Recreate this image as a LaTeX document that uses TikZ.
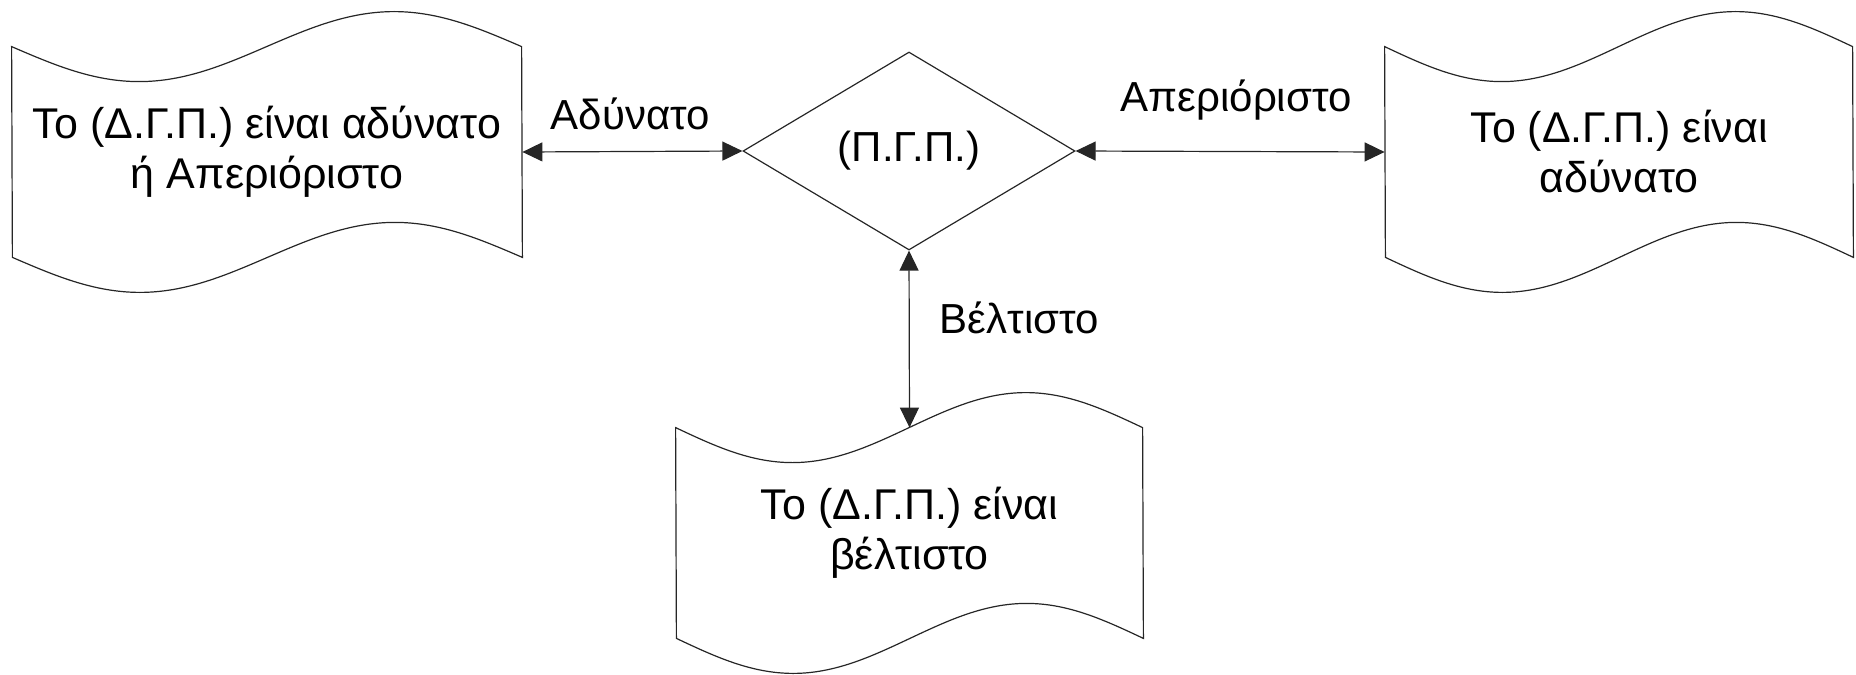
\documentclass[tikz,border=0pt]{standalone}
\usepackage{fontspec}
\setmainfont{Liberation Sans}
\usetikzlibrary{shapes.geometric,arrows.meta,calc}
\tikzset{outline/.style={line width=0.6pt,draw=black!85}}
\tikzset{conn/.style={<->,>={Triangle[length=10pt,width=9.5pt]},line width=0.6pt,draw=black!85}}
\tikzset{tapebox/.style={rectangle,minimum height=105pt,inner sep=0pt,align=center,font=\fontsize{21.5}{25}\selectfont}}
\tikzset{lbl/.style={font=\fontsize{21}{25}\selectfont,inner sep=0pt}}

\begin{document}
\begin{tikzpicture}[x=0.5pt,y=-0.5pt]
	\useasboundingbox (0,0) rectangle (1856,674);

	%% Boxes and decision
	\node[tapebox,minimum width=255pt] (infeas) at (267,152) {Το (Δ.Γ.Π.) είναι αδύνατο\\ή Απεριόριστο};
	\node[diamond,outline,draw,minimum width=166pt,minimum height=99pt,inner sep=0pt,font=\fontsize{21}{25}\selectfont] (pgp) at (909,151) {(Π.Γ.Π.)};
	\node[tapebox,minimum width=234pt] (unbnd) at (1619,152) {Το (Δ.Γ.Π.) είναι\\αδύνατο};
	\node[tapebox,minimum width=233.5pt] (optim) at (909.5,533) {Το (Δ.Γ.Π.) είναι\\βέλτιστο};

	%% Wavy outlines
	\foreach \b/\w in {infeas/510,unbnd/468,optim/467}
		\draw[outline] (\b.north west) sin ++(\w/4,35) cos ++(\w/4,-35) sin ++(\w/4,-35) cos ++(\w/4,35)
			-- (\b.south east) sin ++(-\w/4,-35) cos ++(-\w/4,35) sin ++(-\w/4,35) cos ++(-\w/4,-35) -- cycle;

	%% Connectors
	\draw[conn] (infeas.east) -- node[lbl,anchor=base,yshift=11pt,xshift=-1pt] (lblinf) {Αδύνατο} (pgp.west);
	\draw[conn] (pgp.east) -- node[lbl,anchor=base,yshift=20pt,xshift=3pt] (lblunb) {Απεριόριστο} (unbnd.west);
	\draw[conn] (pgp.south) -- node[lbl,pos=0.47,anchor=base west,xshift=15pt] (lblopt) {Βέλτιστο} (optim.north);

\end{tikzpicture}
\end{document}
